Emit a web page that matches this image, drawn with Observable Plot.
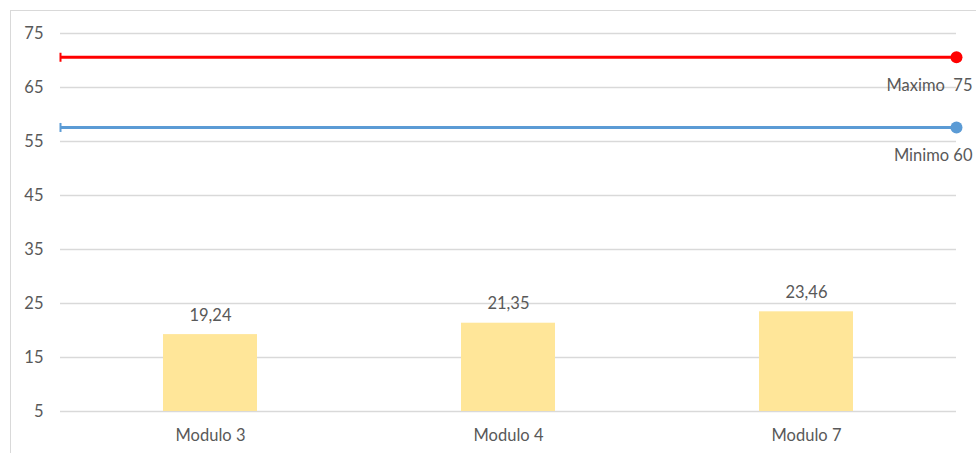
<!DOCTYPE html>
<html>
<head>
<meta charset="utf-8">
<script src="https://cdn.jsdelivr.net/npm/d3@7"></script>
<script src="https://cdn.jsdelivr.net/npm/@observablehq/plot@0.6"></script>
<style>
  html, body { margin: 0; padding: 0; background: #fff; }
  #wrap { position: relative; width: 976px; height: 453px; overflow: hidden; }
  #border { position: absolute; left: 10px; top: 10px; width: 980px; height: 460px; border-left: 1.5px solid #d9d9d9; border-top: 1.5px solid #d9d9d9; box-sizing: border-box; }
  #chart { position: absolute; left: 0; top: 0; }
  svg text { white-space: pre; }
</style>
</head>
<body>
<div id="wrap"><div id="border"></div><div id="chart"></div></div>
<script>
const categories = ["Modulo 3", "Modulo 4", "Modulo 7"];
const values = [19.24, 21.35, 23.46];
const yTicks = [5, 15, 25, 35, 45, 55, 65, 75];
const refNames = ["Maximo  75", "Minimo 60"];
const refValues = [70.6, 57.6];
const refColors = ["#ff0000", "#5b9bd5"];

const bars = categories.map((c, i) => ({cat: c, v: values[i], label: values[i].toFixed(2).replace(".", ",")}));
const refs = refNames.map((n, i) => ({name: n, v: refValues[i], color: refColors[i]}));

const vtick = { draw(ctx) { ctx.moveTo(0, -4.5); ctx.lineTo(0, 4.5); } };

const font = "Lato, 'Open Sans', sans-serif";
const fs = 16.5;

const chart = Plot.plot({
  width: 976,
  height: 453,
  marginLeft: 60,
  marginRight: 20,
  marginTop: 33,
  marginBottom: 42,
  style: { fontFamily: font, fontSize: fs + "px", color: "#595959", background: "transparent", overflow: "visible" },
  x: { domain: categories, paddingInner: 0.685, paddingOuter: 0.3425, label: null },
  y: { domain: [5, 75], ticks: yTicks, label: null },
  marks: [
    Plot.gridY(yTicks, { stroke: "#d9d9d9", strokeOpacity: 1, strokeWidth: 1.5 }),
    Plot.axisY({ ticks: yTicks, tickSize: 0, tickPadding: 17, fontSize: fs, fill: "#595959", label: null }),
    Plot.axisX({ tickSize: 0, tickPadding: 18, fontSize: fs, fill: "#595959", label: null }),
    Plot.barY(bars, { x: "cat", y1: 5, y2: "v", fill: "#ffe699" }),
    Plot.text(bars, { x: "cat", y: "v", text: "label", lineAnchor: "bottom", dy: -14, fontSize: fs, fill: "#595959" }),
    Plot.ruleY(refs, { y: "v", stroke: "color", strokeWidth: 3 }),
    Plot.dot(refs, { y: "v", frameAnchor: "left", symbol: vtick, stroke: "color", strokeWidth: 2, r: 4 }),
    Plot.dot(refs, { y: "v", frameAnchor: "right", fill: "color", r: 6 }),
    Plot.text(refs, { y: "v", text: "name", frameAnchor: "right", textAnchor: "end", dx: 16, dy: 28, fontSize: fs, fill: "#595959" })
  ]
});
document.getElementById("chart").appendChild(chart);
</script>
</body>
</html>
